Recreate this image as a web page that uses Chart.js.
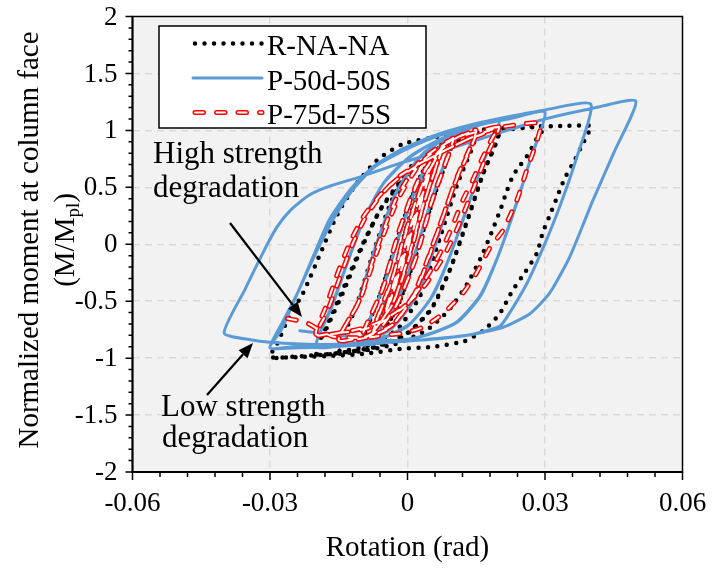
<!DOCTYPE html>
<html>
<head>
<meta charset="utf-8">
<script src="https://cdn.jsdelivr.net/npm/chart.js@4.4.1/dist/chart.umd.min.js"></script>
<style>
    html, body { margin: 0; padding: 0; background: #fff; }
    #charts { display: block; }
</style>
</head>
<body>
<canvas id="charts" width="714" height="572"></canvas>
<script>
// values: [rotation (rad), M/Mpl]
const seriesNames = ['R-NA-NA', 'P-50d-50S', 'P-75d-75S'];
const xTicks = [-0.06, -0.03, 0, 0.03, 0.06];
const yTicks = [-2, -1.5, -1, -0.5, 0, 0.5, 1, 1.5, 2];
const xTitle = 'Rotation (rad)';
const yTitle = 'Normalized moment at column face';
const notes = [['High strength', 'degradation'], ['Low strength', 'degradation']];

const rnaPts = [
    [0, 0],
    [0.00375, 0.5], [0.0005, 0.04], [-0.00375, -0.49], [-0.0005, -0.03],
    [0.00375, 0.5], [0.0004, 0.03], [-0.00375, -0.49], [-0.0002, -0.01],
    [0.005, 0.65], [0.0012, 0.12], [-0.001, -0.17], [-0.005, -0.63], [-0.0012, -0.1], [0.001, 0.18],
    [0.005, 0.65], [0.001, 0.1], [-0.001, -0.18], [-0.005, -0.63], [-0.001, -0.08], [0.001, 0.2],
    [0.0045, 0.64], [0.0075, 0.85], [0.0033, 0.33], [0.0003, -0.12], [-0.0033, -0.55], [-0.0075, -0.8], [-0.0033, -0.3], [-0.0003, 0.14], [0.0035, 0.58],
    [0.0075, 0.85], [0.0032, 0.3], [0.0002, -0.14], [-0.0034, -0.56], [-0.0075, -0.8], [-0.003, -0.28], [0, 0.15], [0.0035, 0.58],
    [0.0065, 0.82], [0.01, 0.93], [0.0058, 0.42], [0.0018, -0.1], [-0.0022, -0.55], [-0.0062, -0.8], [-0.01, -0.88], [-0.0058, -0.42], [-0.0018, 0.1], [0.0022, 0.55], [0.0062, 0.82],
    [0.01, 0.93], [0.0056, 0.4], [0.0016, -0.12], [-0.0024, -0.57], [-0.0064, -0.81], [-0.01, -0.88], [-0.0056, -0.4], [-0.0016, 0.12], [0.0025, 0.57], [0.0065, 0.83],
    [0.0105, 0.94], [0.015, 0.98], [0.011, 0.55], [0.007, 0.05], [0.003, -0.42], [-0.002, -0.74], [-0.008, -0.88], [-0.015, -0.93], [-0.0112, -0.55], [-0.0075, -0.08], [-0.0035, 0.38], [0.0015, 0.72], [0.008, 0.9],
    [0.015, 0.98], [0.0108, 0.52], [0.0068, 0.02], [0.0028, -0.45], [-0.0025, -0.76], [-0.0085, -0.89], [-0.015, -0.93], [-0.011, -0.52], [-0.0072, -0.05], [-0.003, 0.4], [0.002, 0.74], [0.009, 0.92],
    [0.015, 0.98], [0.02, 1.0], [0.0165, 0.62], [0.013, 0.2], [0.0095, -0.2], [0.0055, -0.55], [0, -0.78], [-0.007, -0.9], [-0.014, -0.95], [-0.02, -0.96],
    [-0.0172, -0.7], [-0.0138, -0.4], [-0.0102, -0.05], [-0.006, 0.3], [-0.001, 0.58], [0.005, 0.8], [0.012, 0.93],
    [0.02, 1.0], [0.0163, 0.6], [0.0127, 0.17], [0.0092, -0.23], [0.005, -0.58], [-0.0005, -0.8], [-0.0075, -0.91], [-0.014, -0.95], [-0.02, -0.96],
    [-0.0172, -0.68], [-0.0136, -0.35], [-0.0098, 0], [-0.0055, 0.33], [0, 0.6], [0.006, 0.82], [0.013, 0.95],
    [0.02, 1.0], [0.03, 1.03], [0.0285, 0.95], [0.0265, 0.8], [0.0247, 0.7], [0.023, 0.6], [0.0217, 0.47], [0.0205, 0.33], [0.0185, 0.12], [0.016, -0.12],
    [0.013, -0.35], [0.009, -0.58], [0.004, -0.76], [-0.003, -0.88], [-0.012, -0.95], [-0.022, -0.98], [-0.03, -0.99],
    [-0.0285, -0.88], [-0.026, -0.65], [-0.0228, -0.43], [-0.019, -0.08], [-0.0152, 0.27], [-0.011, 0.54], [-0.0063, 0.75], [-0.001, 0.88], [0.006, 0.94],
    [0.015, 1.0], [0.025, 1.03], [0.035, 1.04], [0.04, 1.04],
    [0.0395, 0.98], [0.0382, 0.88], [0.0365, 0.74], [0.0343, 0.58], [0.0326, 0.41], [0.031, 0.25], [0.0295, 0.1], [0.0282, -0.08], [0.0256, -0.25], [0.023, -0.4],
    [0.0201, -0.61], [0.0165, -0.76], [0.0125, -0.85], [0.0056, -0.9], [-0.0017, -0.92], [-0.0089, -0.96], [-0.0162, -0.98], [-0.0235, -0.99], [-0.03, -1.0]
];

const p50Pts = [
    [0, 0],
    [0.00375, 0.5], [0.0005, 0.04], [-0.00375, -0.48], [-0.0005, -0.03],
    [0.00375, 0.5], [0.0004, 0.03], [-0.00375, -0.48], [-0.0002, -0.01],
    [0.005, 0.64], [0.0012, 0.12], [-0.001, -0.17], [-0.005, -0.6], [-0.0012, -0.1], [0.001, 0.18],
    [0.005, 0.64], [0.0011, 0.1], [-0.0011, -0.18], [-0.005, -0.6], [-0.001, -0.08], [0.001, 0.2],
    [0.0045, 0.63], [0.0075, 0.86], [0.0033, 0.33], [0.0003, -0.12], [-0.0033, -0.52], [-0.0075, -0.76], [-0.0033, -0.3], [-0.0003, 0.13], [0.0033, 0.56],
    [0.0075, 0.86], [0.0032, 0.3], [0.0002, -0.14], [-0.0034, -0.53], [-0.0075, -0.76], [-0.0032, -0.29], [-0.0002, 0.14], [0.0035, 0.57],
    [0.0065, 0.82], [0.01, 0.95], [0.0055, 0.42], [0.0015, -0.1], [-0.0025, -0.52], [-0.0065, -0.76], [-0.01, -0.84], [-0.0055, -0.4], [-0.0015, 0.12], [0.0025, 0.56], [0.0065, 0.83],
    [0.01, 0.96], [0.0053, 0.4], [0.0013, -0.12], [-0.0027, -0.54], [-0.0067, -0.77], [-0.01, -0.84], [-0.0053, -0.38], [-0.0013, 0.14], [0.003, 0.6], [0.007, 0.85],
    [0.011, 0.96], [0.015, 1.03], [0.0105, 0.55], [0.0065, 0.05], [0.0025, -0.42], [-0.003, -0.72], [-0.009, -0.84], [-0.015, -0.88], [-0.0108, -0.5], [-0.0068, 0], [-0.0025, 0.45], [0.0025, 0.76], [0.009, 0.95],
    [0.015, 1.03], [0.0103, 0.52], [0.0063, 0.02], [0.002, -0.45], [-0.0035, -0.74], [-0.009, -0.85], [-0.015, -0.88], [-0.0106, -0.48], [-0.0066, 0.02], [-0.0023, 0.47], [0.003, 0.78], [0.009, 0.96],
    [0.014, 1.03], [0.02, 1.08], [0.0165, 0.72], [0.0128, 0.3], [0.0093, -0.1], [0.0055, -0.45], [0.0005, -0.7], [-0.006, -0.83], [-0.013, -0.88], [-0.02, -0.9],
    [-0.0165, -0.55], [-0.013, -0.15], [-0.0095, 0.22], [-0.0055, 0.52], [0, 0.75], [0.006, 0.9], [0.013, 1.01],
    [0.02, 1.08], [0.0163, 0.7], [0.0126, 0.27], [0.009, -0.13], [0.005, -0.48], [0, -0.72], [-0.0065, -0.84], [-0.013, -0.88], [-0.02, -0.9],
    [-0.0163, -0.52], [-0.0128, -0.12], [-0.0092, 0.25], [-0.005, 0.55], [0.0005, 0.77], [0.007, 0.92], [0.014, 1.03],
    [0.022, 1.1], [0.03, 1.16], [0.027, 0.77], [0.0235, 0.32], [0.02, -0.08], [0.016, -0.45], [0.011, -0.68], [0.004, -0.8], [-0.005, -0.86], [-0.015, -0.89], [-0.025, -0.9], [-0.03, -0.91],
    [-0.0275, -0.75], [-0.024, -0.43], [-0.0205, -0.12], [-0.0165, 0.2], [-0.0125, 0.45], [-0.0075, 0.67], [0, 0.84], [0.008, 0.97], [0.016, 1.06], [0.023, 1.11], [0.03, 1.16],
    [0.0268, 0.74], [0.0232, 0.29], [0.0197, -0.11], [0.0157, -0.46], [0.0105, -0.69], [0.003, -0.81], [-0.006, -0.87], [-0.016, -0.9], [-0.025, -0.91], [-0.03, -0.91],
    [-0.0272, -0.68], [-0.024, -0.43], [-0.0205, -0.1], [-0.017, 0.22], [-0.0125, 0.48], [-0.0075, 0.68], [-0.001, 0.84], [0.007, 0.97], [0.015, 1.06], [0.022, 1.12], [0.03, 1.18], [0.04, 1.23],
    [0.0369, 0.76], [0.0332, 0.33], [0.0296, -0.03], [0.0261, -0.34], [0.0217, -0.64], [0.0201, -0.72], [0.013, -0.8], [0.003, -0.84], [-0.009, -0.87], [-0.02, -0.88], [-0.03, -0.86], [-0.034, -0.84], [-0.04, -0.78],
    [-0.0355, -0.4], [-0.0316, -0.08], [-0.0285, 0.15], [-0.0255, 0.3], [-0.0215, 0.43], [-0.017, 0.51], [-0.0104, 0.59], [-0.0017, 0.71], [0.0093, 0.84], [0.0202, 0.98], [0.03, 1.1], [0.04, 1.19], [0.0498, 1.257],
    [0.0452, 0.82], [0.0405, 0.39], [0.0354, -0.11], [0.031, -0.43], [0.0267, -0.61], [0.0208, -0.73], [0.013, -0.8], [0.0033, -0.84], [-0.006, -0.84], [-0.015, -0.8], [-0.0235, -0.76]
];

const p75Pts = [
    [0, 0],
    [0.00375, 0.5], [0.0005, 0.05], [-0.00375, -0.49], [-0.0005, -0.04],
    [0.00375, 0.5], [0.0004, 0.04], [-0.00375, -0.5], [-0.0002, -0.01],
    [0.005, 0.64], [0.0012, 0.12], [-0.0008, -0.16], [-0.005, -0.62], [-0.0012, -0.1], [0.0009, 0.17],
    [0.005, 0.65], [0.001, 0.1], [-0.001, -0.17], [-0.005, -0.62], [-0.001, -0.08], [0.001, 0.2],
    [0.0045, 0.62], [0.0075, 0.84], [0.0035, 0.35], [0.0005, -0.1], [-0.003, -0.5], [-0.0075, -0.77], [-0.0035, -0.33], [-0.0005, 0.1], [0.003, 0.5],
    [0.0075, 0.85], [0.0033, 0.33], [0.0003, -0.1], [-0.0032, -0.52], [-0.0075, -0.76], [-0.0033, -0.3], [-0.0002, 0.12], [0.0035, 0.55],
    [0.0065, 0.8], [0.01, 0.92], [0.0055, 0.4], [0.002, -0.1], [-0.002, -0.5], [-0.006, -0.74], [-0.01, -0.82], [-0.0055, -0.4], [-0.002, 0.1], [0.002, 0.52], [0.006, 0.78],
    [0.01, 0.93], [0.0053, 0.38], [0.0018, -0.12], [-0.0022, -0.52], [-0.0062, -0.75], [-0.01, -0.82], [-0.0053, -0.38], [-0.0018, 0.12], [0.0022, 0.55], [0.0065, 0.8],
    [0.0105, 0.93], [0.015, 1.0], [0.0107, 0.58], [0.0065, 0.1], [0.002, -0.4], [-0.003, -0.7], [-0.009, -0.81], [-0.015, -0.84], [-0.0105, -0.5], [-0.0065, -0.05], [-0.002, 0.4], [0.003, 0.72], [0.009, 0.9],
    [0.015, 0.99], [0.0105, 0.55], [0.006, 0.05], [0.0015, -0.43], [-0.0035, -0.72], [-0.009, -0.82], [-0.015, -0.84], [-0.0108, -0.52], [-0.0068, -0.05], [-0.0025, 0.4], [0.0025, 0.72], [0.009, 0.91],
    [0.0145, 0.98], [0.02, 1.03], [0.0186, 0.94], [0.0164, 0.76], [0.0142, 0.56], [0.0121, 0.39], [0.01, 0.18], [0.0077, -0.03], [0.0055, -0.2], [0.0027, -0.38],
    [0.0005, -0.5], [-0.0017, -0.58], [-0.0054, -0.68], [-0.0089, -0.74], [-0.0126, -0.77], [-0.0163, -0.78], [-0.02, -0.8],
    [-0.0176, -0.6], [-0.0148, -0.3], [-0.012, 0], [-0.009, 0.25], [-0.0054, 0.45], [-0.0017, 0.6], [0.0027, 0.71], [0.007, 0.8], [0.012, 0.9], [0.0165, 0.97], [0.02, 1.03],
    [0.0175, 0.8], [0.014, 0.45], [0.011, 0.15], [0.008, -0.1], [0.004, -0.35], [0, -0.52], [-0.005, -0.66], [-0.01, -0.74], [-0.015, -0.78], [-0.02, -0.79],
    [-0.0178, -0.55], [-0.0152, -0.25], [-0.0125, 0.02], [-0.0095, 0.25], [-0.0058, 0.44], [-0.002, 0.58], [0.0025, 0.7], [0.007, 0.8], [0.0125, 0.91], [0.0165, 0.98], [0.0195, 1.02], [0.024, 1.05], [0.029, 1.06],
    [0.0282, 0.9], [0.026, 0.65], [0.0239, 0.39], [0.0208, 0.12], [0.018, -0.03], [0.0151, -0.25], [0.0121, -0.43], [0.0077, -0.61], [0.0033, -0.73],
    [-0.001, -0.78], [-0.0054, -0.8], [-0.0089, -0.82], [-0.0126, -0.82], [-0.0163, -0.81], [-0.019, -0.76], [-0.022, -0.69], [-0.0265, -0.65]
];

const FONT = "'Liberation Serif', 'Times New Roman', serif";
const BLUE = '#5b9bd5';
const RED = '#ff0000';
const toXY = (pts) => pts.map(p => ({ x: p[0], y: p[1] }));
const fmt = (v) => String(parseFloat(v.toFixed(3)));

// line looks, shared by chart and legend
const styles = {
    dots: { color: '#000', width: 4.5, dash: [0, 9.5], cap: 'round' },
    solid: { color: BLUE, width: 3, dash: [], cap: 'round' },
    redOuter: { color: RED, width: 5, dash: [8.5, 13], cap: 'round' },
    redInner: { color: '#fff', width: 2, dash: [8.5, 13], cap: 'round' }
};

const lineSet = (label, pts, st, order) => ({
    label: label,
    data: toXY(pts),
    showLine: true,
    borderColor: st.color,
    borderWidth: st.width,
    borderDash: st.dash,
    borderCapStyle: st.cap,
    borderJoinStyle: 'round',
    pointRadius: 0,
    tension: 0.2,
    order: order
});

const strokeSample = (ctx, st, x1, x2, y) => {
    ctx.save();
    ctx.strokeStyle = st.color;
    ctx.lineWidth = st.width;
    ctx.setLineDash(st.dash);
    ctx.lineCap = st.cap;
    ctx.beginPath();
    ctx.moveTo(x1, y);
    ctx.lineTo(x2, y);
    ctx.stroke();
    ctx.restore();
};

const arrow = (ctx, x1, y1, x2, y2) => {
    const ang = Math.atan2(y2 - y1, x2 - x1);
    const len = 15, half = 6;
    const bx = x2 - len * Math.cos(ang), by = y2 - len * Math.sin(ang);
    ctx.save();
    ctx.strokeStyle = '#000';
    ctx.fillStyle = '#000';
    ctx.lineWidth = 2.2;
    ctx.beginPath();
    ctx.moveTo(x1, y1);
    ctx.lineTo(bx, by);
    ctx.stroke();
    ctx.beginPath();
    ctx.moveTo(x2, y2);
    ctx.lineTo(bx + half * Math.sin(ang), by - half * Math.cos(ang));
    ctx.lineTo(bx - half * Math.sin(ang), by + half * Math.cos(ang));
    ctx.closePath();
    ctx.fill();
    ctx.restore();
};

const frame = {
    id: 'frame',
    beforeDraw(chart) {
        const { ctx, chartArea: a } = chart;
        ctx.save();
        ctx.fillStyle = '#f2f2f2';
        ctx.fillRect(a.left, a.top, a.right - a.left, a.bottom - a.top);
        ctx.restore();
    },
    afterDraw(chart) {
        const { ctx, chartArea: a } = chart;
        const xs = chart.scales.x, ys = chart.scales.y;
        ctx.save();
        // box round the plot
        ctx.strokeStyle = '#000';
        ctx.lineWidth = 1.5;
        ctx.strokeRect(a.left, a.top, a.right - a.left, a.bottom - a.top);
        ctx.lineWidth = 2;
        ctx.beginPath();
        ctx.moveTo(a.left, a.top);
        ctx.lineTo(a.left, a.bottom);
        ctx.lineTo(a.right, a.bottom);
        ctx.stroke();
        // tick marks, minor every 0.1 / 0.006
        ctx.lineWidth = 1.5;
        ctx.beginPath();
        for (let i = -20; i <= 20; i++) {
            const py = ys.getPixelForValue(i / 10);
            const len = i % 5 === 0 ? 7 : 4;
            ctx.moveTo(a.left - len, py);
            ctx.lineTo(a.left, py);
        }
        for (let i = -10; i <= 10; i++) {
            const px = xs.getPixelForValue(i * 0.006);
            const len = i % 5 === 0 ? 8 : 5;
            ctx.moveTo(px, a.bottom);
            ctx.lineTo(px, a.bottom + len);
        }
        ctx.stroke();

        // tick labels
        ctx.fillStyle = '#000';
        ctx.font = `27px ${FONT}`;
        ctx.textAlign = 'center';
        ctx.textBaseline = 'alphabetic';
        xTicks.forEach(v => ctx.fillText(fmt(v), xs.getPixelForValue(v), a.bottom + 39));
        ctx.textAlign = 'right';
        ctx.textBaseline = 'middle';
        yTicks.forEach(v => ctx.fillText(fmt(v), a.left - 15, ys.getPixelForValue(v) + 1));

        // axis titles
        ctx.font = `29px ${FONT}`;
        ctx.textAlign = 'center';
        ctx.textBaseline = 'alphabetic';
        ctx.fillText(xTitle, (a.left + a.right) / 2, 556);

        ctx.save();
        ctx.translate(30, 240);
        ctx.rotate(-Math.PI / 2);
        ctx.textBaseline = 'middle';
        ctx.fillText(yTitle, 0, 0);
        ctx.restore();

        ctx.save();
        ctx.translate(66, 240);
        ctx.rotate(-Math.PI / 2);
        ctx.textBaseline = 'middle';
        ctx.textAlign = 'left';
        const partA = '(M/M', partB = 'pl', partC = ')';
        ctx.font = `29px ${FONT}`;
        const wA = ctx.measureText(partA).width, wC = ctx.measureText(partC).width;
        ctx.font = `19px ${FONT}`;
        const wB = ctx.measureText(partB).width;
        let x0 = -(wA + wB + wC) / 2;
        ctx.font = `29px ${FONT}`;
        ctx.fillText(partA, x0, 0);
        ctx.font = `19px ${FONT}`;
        ctx.fillText(partB, x0 + wA, 8);
        ctx.font = `29px ${FONT}`;
        ctx.fillText(partC, x0 + wA + wB, 0);
        ctx.restore();

        // legend
        const lg = { left: 159, top: 26, right: 426, bottom: 128 };
        ctx.fillStyle = '#fff';
        ctx.fillRect(lg.left, lg.top, lg.right - lg.left, lg.bottom - lg.top);
        ctx.strokeStyle = '#000';
        ctx.lineWidth = 1.5;
        ctx.strokeRect(lg.left, lg.top, lg.right - lg.left, lg.bottom - lg.top);
        const rows = [43.5, 78, 112.5];
        strokeSample(ctx, styles.dots, 195, 262, rows[0]);
        strokeSample(ctx, styles.solid, 193, 262, rows[1]);
        strokeSample(ctx, styles.redOuter, 195, 262, rows[2]);
        strokeSample(ctx, styles.redInner, 195, 262, rows[2]);
        ctx.fillStyle = '#000';
        ctx.font = `29px ${FONT}`;
        ctx.textAlign = 'left';
        ctx.textBaseline = 'alphabetic';
        seriesNames.forEach((name, i) => ctx.fillText(name, 267, rows[i] + 11.5));

        // notes with arrows
        ctx.font = `31px ${FONT}`;
        ctx.fillText(notes[0][0], 153, 163);
        ctx.fillText(notes[0][1], 153, 197);
        ctx.fillText(notes[1][0], 161, 416);
        ctx.fillText(notes[1][1], 162, 447);
        arrow(ctx, 230, 223, 302, 317);
        arrow(ctx, 207, 395, 253, 343);
        ctx.restore();
    }
};

const edgeless = (ends) => (c) => (c.tick && ends.includes(c.tick.value)) ? 'rgba(0,0,0,0)' : '#d9d9d9';

const config = {
    type: 'scatter',
    data: {
        datasets: [
            lineSet(seriesNames[2], p75Pts, styles.redInner, 0),
            lineSet(seriesNames[2], p75Pts, styles.redOuter, 1),
            lineSet(seriesNames[1], p50Pts, styles.solid, 2),
            lineSet(seriesNames[0], rnaPts, styles.dots, 3)
        ]
    },
    options: {
        responsive: false,
        animation: false,
        layout: { padding: { top: 16.5, right: 31.5, left: 0, bottom: 0 } },
        plugins: {
            legend: { display: false },
            tooltip: { enabled: false }
        },
        scales: {
            x: {
                type: 'linear',
                min: -0.06,
                max: 0.06,
                afterBuildTicks: (s) => { s.ticks = xTicks.map(v => ({ value: v })); },
                afterFit: (s) => { s.height = 100; },
                ticks: { display: false },
                grid: { color: edgeless([-0.06, 0.06]), lineWidth: 1.5, drawTicks: false },
                border: { display: false, dash: [7, 5] }
            },
            y: {
                type: 'linear',
                min: -2,
                max: 2,
                afterBuildTicks: (s) => { s.ticks = yTicks.map(v => ({ value: v })); },
                afterFit: (s) => { s.width = 132.5; },
                ticks: { display: false },
                grid: { color: edgeless([-2, 2]), lineWidth: 1.5, drawTicks: false },
                border: { display: false, dash: [7, 5] }
            }
        }
    },
    plugins: [frame]
};

const ctx = document.getElementById('charts');
const hystChart = new Chart(ctx, config);
</script>
</body>
</html>
